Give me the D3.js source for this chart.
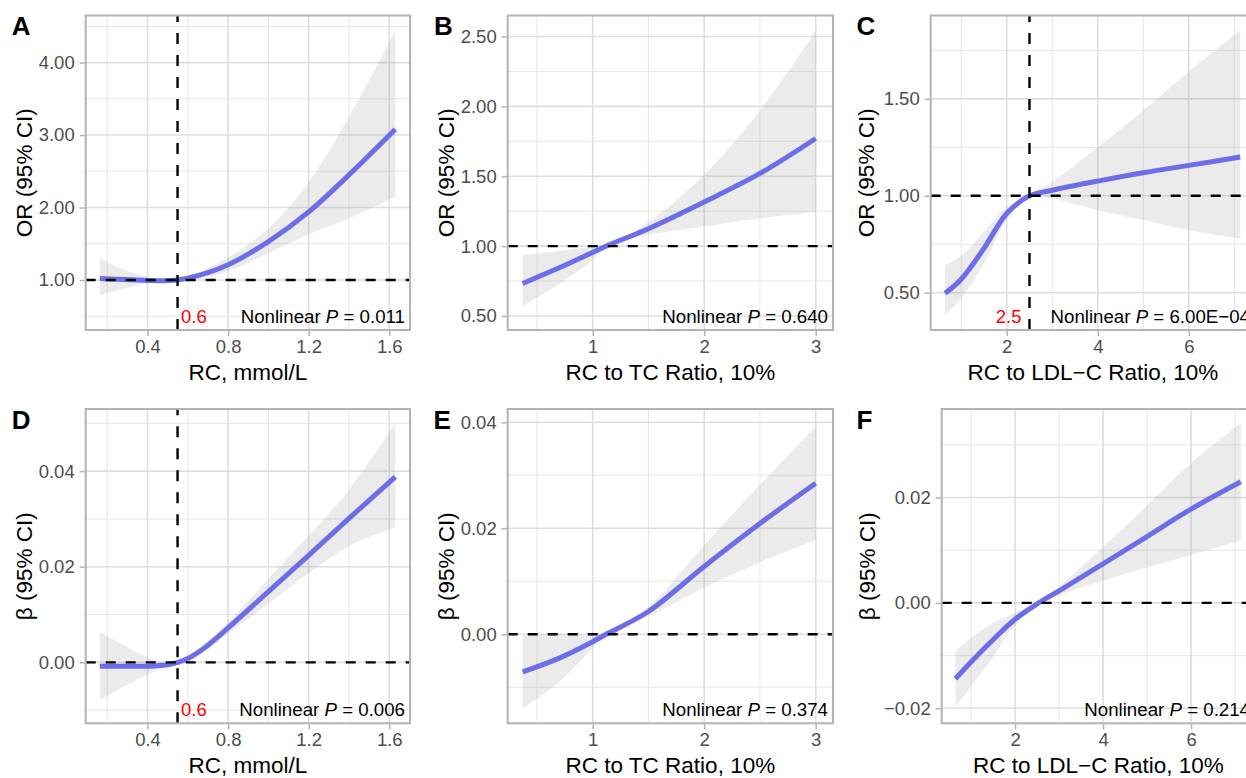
<!DOCTYPE html>
<html>
<head>
<meta charset="utf-8">
<script src="https://cdn.jsdelivr.net/npm/d3@7"></script>
<style>
  body { margin: 0; background: #fff; }
  svg { display: block; font-family: "Liberation Sans", Arial, sans-serif; }
</style>
</head>
<body>
<svg id="chart" width="1246" height="778"></svg>
<script>
// ---- data ----
// RC, mmol/L (panels A and D)
const rcX     = [0.163, 0.25, 0.35, 0.45, 0.549, 0.65, 0.8, 1.0, 1.2, 1.4, 1.63];
const orRcEst = [1.02, 1.01, 1.00, 0.99, 1.00, 1.06, 1.21, 1.53, 1.94, 2.45, 3.08];
const orRcLo  = [0.79, 0.86, 0.93, 0.975, 1.00, 1.02, 1.12, 1.37, 1.63, 1.85, 2.15];
const orRcHi  = [1.31, 1.18, 1.08, 1.01, 1.00, 1.10, 1.31, 1.71, 2.35, 3.25, 4.44];

const rcXb    = [0.163, 0.3, 0.4, 0.5, 0.549, 0.6, 0.7, 0.8, 1.0, 1.2, 1.4, 1.63];
const bRcEst  = [-0.0008, -0.0008, -0.0008, -0.0005, 0, 0.0008, 0.0036, 0.0072, 0.0148, 0.0224, 0.0301, 0.0388];
const bRcLo   = [-0.0079, -0.0047, -0.0025, -0.0007, 0, 0.0006, 0.0028, 0.0060, 0.0122, 0.0187, 0.0243, 0.0283];
const bRcHi   = [0.0064, 0.0032, 0.0010, -0.0002, 0, 0.0010, 0.0044, 0.0084, 0.0175, 0.0265, 0.0360, 0.0500];

// RC to TC ratio, 10% (panels B and E)
const tcX     = [0.372, 0.7, 1.0, 1.12, 1.5, 2.0, 2.5, 3.0];
const orTcEst = [0.733, 0.845, 0.955, 1.0, 1.125, 1.316, 1.52, 1.77];
const orTcLo  = [0.571, 0.73, 0.90, 1.0, 1.08, 1.14, 1.20, 1.245];
const orTcHi  = [0.936, 0.965, 0.995, 1.0, 1.17, 1.51, 1.97, 2.54];
const bTcEst  = [-0.0071, -0.0045, -0.0014, 0, 0.0043, 0.0128, 0.0209, 0.0285];
const bTcLo   = [-0.0140, -0.0090, -0.0026, 0, 0.0034, 0.0088, 0.0136, 0.0178];
const bTcHi   = [-0.0002, 0.0000, -0.0002, 0, 0.0052, 0.0168, 0.0282, 0.0392];

// RC to LDL-C ratio, 10% (panels C and F)
const ldlX     = [0.644, 1.0, 1.5, 2.0, 2.5, 3.0, 4.0, 5.0, 6.0, 7.13];
const orLdlEst = [0.497, 0.57, 0.729, 0.909, 1.0, 1.029, 1.076, 1.119, 1.157, 1.20];
const orLdlLo  = [0.385, 0.47, 0.65, 0.875, 1.0, 0.987, 0.926, 0.875, 0.823, 0.78];
const orLdlHi  = [0.643, 0.69, 0.815, 0.943, 1.0, 1.072, 1.25, 1.44, 1.64, 1.854];
const bLdlEst  = [-0.0144, -0.0112, -0.0070, -0.0031, -0.0002, 0.0023, 0.0074, 0.0126, 0.0178, 0.0230];
const bLdlLo   = [-0.0197, -0.0158, -0.0102, -0.0043, -0.0004, 0.0015, 0.0042, 0.0067, 0.0091, 0.0119];
const bLdlHi   = [-0.0091, -0.0066, -0.0038, -0.0019, 0.0000, 0.0031, 0.0106, 0.0185, 0.0265, 0.0341];

// ticks
const rcTicks    = [0.4, 0.8, 1.2, 1.6],  rcMinor    = [0.2, 0.6, 1.0, 1.4];
const tcTicks    = [1, 2, 3],             tcMinor    = [0.5, 1.5, 2.5];
const ldlTicks   = [2, 4, 6],             ldlMinor   = [1, 3, 5, 7];
const orRcTicks  = [1, 2, 3, 4],          orRcMinor  = [0.5, 1.5, 2.5, 3.5, 4.5];
const orTcTicks  = [0.5, 1, 1.5, 2, 2.5], orTcMinor  = [0.75, 1.25, 1.75, 2.25];
const orLdlTicks = [0.5, 1, 1.5],         orLdlMinor = [0.75, 1.25, 1.75];
const betaTicks  = [-0.02, 0, 0.02, 0.04], betaMinor = [-0.01, 0.01, 0.03, 0.05];

const pValues = ['0.011', '0.640', '6.00E\u221204', '0.006', '0.374', '0.214'];

// ---- panels ----
const panels = [
  { id: 'A', left: 85.7, right: 410, top: 15.5, bottom: 330, xDom: [0.093, 1.703], yDom: [0.31, 4.65],
    xs: rcX, est: orRcEst, lo: orRcLo, hi: orRcHi, xt: rcTicks, xm: rcMinor, yt: orRcTicks, ym: orRcMinor,
    ref: 1, vline: 0.549, vlab: '0.6', vside: 'right', p: pValues[0],
    xTitle: 'RC, mmol/L', yTitle: 'OR (95% CI)', lx: 11.7, ly: 35, ytx: 31.5 },
  { id: 'B', left: 507.7, right: 833, top: 15.5, bottom: 330, xDom: [0.238, 3.155], yDom: [0.4, 2.65],
    xs: tcX, est: orTcEst, lo: orTcLo, hi: orTcHi, xt: tcTicks, xm: tcMinor, yt: orTcTicks, ym: orTcMinor,
    ref: 1, vline: null, p: pValues[1],
    xTitle: 'RC to TC Ratio, 10%', yTitle: 'OR (95% CI)', lx: 434, ly: 35, ytx: 453.5 },
  { id: 'C', left: 930.7, right: 1255, top: 15.5, bottom: 330, xDom: [0.33, 7.454], yDom: [0.308, 1.93],
    xs: ldlX, est: orLdlEst, lo: orLdlLo, hi: orLdlHi, xt: ldlTicks, xm: ldlMinor, yt: orLdlTicks, ym: orLdlMinor,
    ref: 1, vline: 2.5, vlab: '2.5', vside: 'left', p: pValues[2],
    xTitle: 'RC to LDL\u2212C Ratio, 10%', yTitle: 'OR (95% CI)', lx: 856.5, ly: 35, ytx: 874 },
  { id: 'D', left: 85.7, right: 410, top: 409, bottom: 723.3, xDom: [0.093, 1.703], yDom: [-0.01275, 0.053],
    xs: rcXb, est: bRcEst, lo: bRcLo, hi: bRcHi, xt: rcTicks, xm: rcMinor, yt: betaTicks, ym: betaMinor,
    ref: 0, vline: 0.549, vlab: '0.6', vside: 'right', p: pValues[3],
    xTitle: 'RC, mmol/L', yTitle: '\u03b2 (95% CI)', lx: 11.7, ly: 428.5, ytx: 31.5 },
  { id: 'E', left: 507.7, right: 833, top: 409, bottom: 723.3, xDom: [0.238, 3.155], yDom: [-0.0168, 0.0425],
    xs: tcX, est: bTcEst, lo: bTcLo, hi: bTcHi, xt: tcTicks, xm: tcMinor, yt: betaTicks, ym: betaMinor,
    ref: 0, vline: null, p: pValues[4],
    xTitle: 'RC to TC Ratio, 10%', yTitle: '\u03b2 (95% CI)', lx: 433.5, ly: 428.5, ytx: 453.5 },
  { id: 'F', left: 941.7, right: 1255, top: 409, bottom: 723.3, xDom: [0.333, 7.454], yDom: [-0.02285, 0.0368],
    xs: ldlX, est: bLdlEst, lo: bLdlLo, hi: bLdlHi, xt: ldlTicks, xm: ldlMinor, yt: betaTicks, ym: betaMinor,
    ref: 0, vline: null, p: pValues[5],
    xTitle: 'RC to LDL\u2212C Ratio, 10%', yTitle: '\u03b2 (95% CI)', lx: 856.5, ly: 428.5, ytx: 875 }
];

const svg = d3.select('#chart');
svg.append('rect').attr('width', 1246).attr('height', 778).attr('fill', '#fff');

const smooth = d3.curveCatmullRom.alpha(0.5);

function drawPanel(p) {
  const g = svg.append('g');
  const x = d3.scaleLinear().domain(p.xDom).range([p.left, p.right]);
  const y = d3.scaleLinear().domain(p.yDom).range([p.bottom, p.top]);
  const inY = v => v >= p.yDom[0] && v <= p.yDom[1];
  const inX = v => v >= p.xDom[0] && v <= p.xDom[1];

  const clipId = 'clip' + p.id;
  g.append('clipPath').attr('id', clipId).append('rect')
    .attr('x', p.left).attr('y', p.top).attr('width', p.right - p.left).attr('height', p.bottom - p.top);
  const body = g.append('g').attr('clip-path', `url(#${clipId})`);

  // grid, minor then major
  body.selectAll('.ymin').data(p.ym.filter(inY)).enter().append('line')
    .attr('x1', p.left).attr('x2', p.right).attr('y1', d => y(d)).attr('y2', d => y(d))
    .attr('stroke', '#e6e6e6').attr('stroke-width', 1);
  body.selectAll('.xmin').data(p.xm.filter(inX)).enter().append('line')
    .attr('y1', p.top).attr('y2', p.bottom).attr('x1', d => x(d)).attr('x2', d => x(d))
    .attr('stroke', '#e6e6e6').attr('stroke-width', 1);
  body.selectAll('.ymaj').data(p.yt.filter(inY)).enter().append('line')
    .attr('x1', p.left).attr('x2', p.right).attr('y1', d => y(d)).attr('y2', d => y(d))
    .attr('stroke', '#dedede').attr('stroke-width', 1.6);
  body.selectAll('.xmaj').data(p.xt.filter(inX)).enter().append('line')
    .attr('y1', p.top).attr('y2', p.bottom).attr('x1', d => x(d)).attr('x2', d => x(d))
    .attr('stroke', '#dedede').attr('stroke-width', 1.6);

  const rows = p.xs.map((v, i) => ({ x: v, est: p.est[i], lo: p.lo[i], hi: p.hi[i] }));

  body.append('path').datum(rows)
    .attr('d', d3.area().x(d => x(d.x)).y0(d => y(d.lo)).y1(d => y(d.hi)).curve(smooth))
    .attr('fill', '#999').attr('fill-opacity', 0.2);

  body.append('path').datum(rows)
    .attr('d', d3.line().x(d => x(d.x)).y(d => y(d.est)).curve(smooth))
    .attr('fill', 'none').attr('stroke', '#6d6de8').attr('stroke-width', 5)
    .attr('stroke-linecap', 'butt');

  // reference lines
  body.append('line')
    .attr('x1', p.left).attr('x2', p.right).attr('y1', y(p.ref)).attr('y2', y(p.ref))
    .attr('stroke', '#000').attr('stroke-width', 2.4).attr('stroke-dasharray', '10,10');
  if (p.vline != null) {
    body.append('line')
      .attr('x1', x(p.vline)).attr('x2', x(p.vline)).attr('y1', p.bottom).attr('y2', p.top)
      .attr('stroke', '#000').attr('stroke-width', 2.4).attr('stroke-dasharray', '11,11');
    body.append('text')
      .attr('x', p.vside === 'right' ? x(p.vline) + 3.5 : x(p.vline) - 8)
      .attr('y', p.bottom - 7.5)
      .attr('text-anchor', p.vside === 'right' ? 'start' : 'end')
      .attr('fill', '#ff0000').attr('font-size', 18.5)
      .text(p.vlab);
  }

  const pt = body.append('text')
    .attr('x', p.right - 5).attr('y', p.bottom - 7.5)
    .attr('text-anchor', 'end').attr('font-size', 18.7).attr('fill', '#000');
  pt.append('tspan').text('Nonlinear ');
  pt.append('tspan').attr('font-style', 'italic').text('P');
  pt.append('tspan').text(' = ' + p.p);

  // border
  g.append('rect')
    .attr('x', p.left).attr('y', p.top).attr('width', p.right - p.left).attr('height', p.bottom - p.top)
    .attr('fill', 'none').attr('stroke', '#b3b3b3').attr('stroke-width', 2);

  // axes
  const fmt = d3.format('.2f');
  const xa = g.append('g').attr('transform', `translate(0,${p.bottom + 1})`)
    .call(d3.axisBottom(x).tickValues(p.xt).tickSize(5).tickPadding(4).tickFormat(d3.format('')));
  const ya = g.append('g').attr('transform', `translate(${p.left - 1},0)`)
    .call(d3.axisLeft(y).tickValues(p.yt.filter(inY)).tickSize(5).tickPadding(5).tickFormat(fmt));
  [xa, ya].forEach(a => {
    a.select('.domain').remove();
    a.selectAll('.tick line').attr('stroke', '#b3b3b3').attr('stroke-width', 1.5);
    a.selectAll('.tick text').attr('fill', '#4d4d4d').attr('font-size', 18.5)
      .attr('font-family', '"Liberation Sans", Arial, sans-serif');
  });

  // titles
  g.append('text')
    .attr('x', (p.left + p.right) / 2).attr('y', p.bottom + 50)
    .attr('text-anchor', 'middle').attr('font-size', 22.5).attr('fill', '#000')
    .text(p.xTitle);
  g.append('text')
    .attr('transform', `translate(${p.ytx},${(p.top + p.bottom) / 2}) rotate(-90)`)
    .attr('text-anchor', 'middle').attr('font-size', 22.5).attr('fill', '#000')
    .text(p.yTitle);
  g.append('text')
    .attr('x', p.lx).attr('y', p.ly)
    .attr('font-size', 26).attr('font-weight', 'bold').attr('fill', '#000')
    .text(p.id);
}

panels.forEach(drawPanel);
</script>
</body>
</html>
